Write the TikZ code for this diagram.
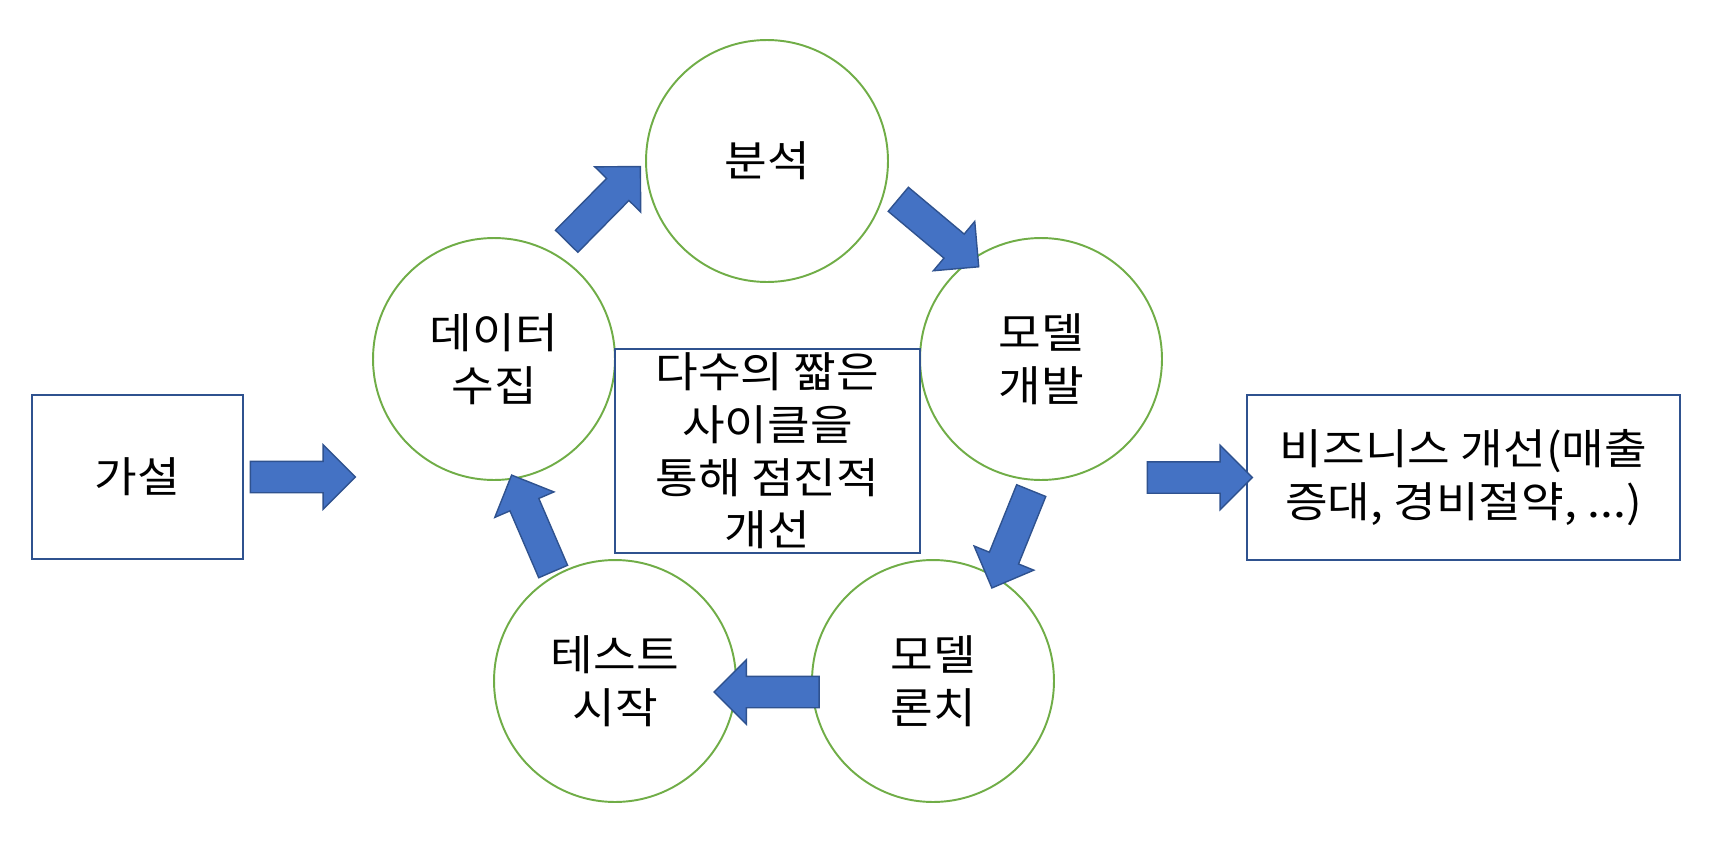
\documentclass[tikz,border=0pt]{standalone}
\usepackage{fontspec}
\setmainfont[FakeStretch=1.1]{Noto Sans CJK KR}
\usepackage{xcolor}
\definecolor{stagegreen}{HTML}{70AD47}
\definecolor{boxblue}{HTML}{2F528F}
\definecolor{flowblue}{HTML}{4472C4}
\usetikzlibrary{shapes.arrows}

\begin{document}
\begin{tikzpicture}[
  x=0.02cm, y=-0.02cm,
  stage/.style={circle, draw=stagegreen, line width=1.1pt, fill=white,
                minimum size=4.84cm, inner sep=0pt, align=center,
                font=\fontsize{24}{30}\selectfont},
  textbox/.style={rectangle, draw=boxblue, line width=1.1pt, fill=white,
                  inner sep=0pt, align=center,
                  font=\fontsize{24}{30}\selectfont},
  flow/.style={single arrow, draw=boxblue, fill=flowblue, line width=0.8pt,
               minimum height=2.1cm, inner sep=0pt, inner ysep=0.3cm,
               single arrow head extend=0.33cm},
]
\useasboundingbox (0,0) rectangle (1722,842);

% cycle stages
\node[stage] (analysis) at (767,161) {분석};
\node[stage] (collect)  at (494,359) {데이터\\수집};
\node[stage] (develop)  at (1041,359) {모델\\개발};
\node[stage] (launch)   at (933,681) {모델\\론치};
\node[stage] (test)     at (615,681) {테스트\\시작};

% boxes
\node[textbox, minimum width=4.22cm, minimum height=3.28cm] (hypo) at (137.5,477) {가설};
\node[textbox, minimum width=6.1cm, minimum height=4.08cm] (cycle) at (767.5,451)
  {다수의 짧은\\사이클을\\통해 점진적\\개선};
\node[textbox, minimum width=8.66cm, minimum height=3.3cm] (biz) at (1463.5,477.5)
  {비즈니스 개선(매출\\증대, 경비절약, ...)};

% block arrows
\node[flow] (a1) at (295,477) {};
\node[flow, rotate=45.4] (a2) at (598,209.5) {};
\node[flow, rotate=-40] (a3) at (932.5,228) {};
\node[flow, rotate=-112] (a4) at (1014.5,532) {};
\node[flow, rotate=180] (a5) at (774.5,692) {};
\node[flow, rotate=113.3] (a6) at (535.5,530.5) {};
\node[flow] (a7) at (1192,477.5) {};

\end{tikzpicture}
\end{document}
